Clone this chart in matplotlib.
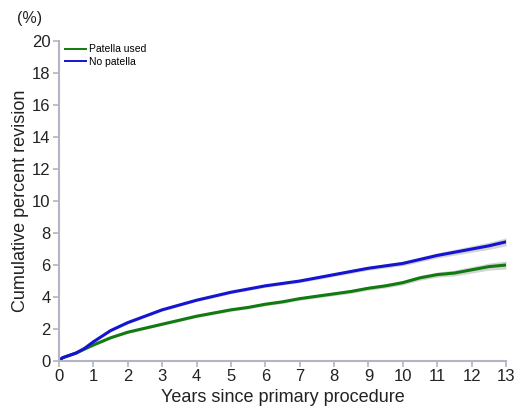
import matplotlib.pyplot as plt

plt.rcParams['font.family'] = ['Liberation Sans', 'DejaVu Sans']

years = [0, 0.1, 0.3, 0.5, 0.75, 1.0, 1.5, 2.0, 2.5, 3.0, 3.5, 4.0, 4.5, 5.0, 5.5, 6.0, 6.5,
         7.0, 7.5, 8.0, 8.5, 9.0, 9.5, 10.0, 10.5, 11.0, 11.5, 12.0, 12.5, 13.0]
no_patella = [0, 0.2, 0.35, 0.5, 0.8, 1.2, 1.9, 2.4, 2.8, 3.2, 3.5, 3.8, 4.05, 4.3, 4.5, 4.7, 4.85,
              5.0, 5.2, 5.4, 5.6, 5.8, 5.95, 6.1, 6.35, 6.6, 6.8, 7.0, 7.2, 7.45]
patella_used = [0, 0.2, 0.35, 0.5, 0.75, 1.0, 1.45, 1.8, 2.05, 2.3, 2.55, 2.8, 3.0, 3.2, 3.35, 3.55, 3.7,
                3.9, 4.05, 4.2, 4.35, 4.55, 4.7, 4.9, 5.2, 5.4, 5.5, 5.7, 5.9, 6.0]
ci_half = [0, 0.03, 0.04, 0.05, 0.05, 0.06, 0.06, 0.07, 0.07, 0.08, 0.08, 0.08, 0.09, 0.09, 0.09, 0.1, 0.1,
           0.1, 0.11, 0.11, 0.12, 0.12, 0.13, 0.14, 0.15, 0.16, 0.18, 0.2, 0.22, 0.25]

fig = plt.figure(figsize=(5.16, 4.07), dpi=100)
ax = fig.add_axes([0.1143, 0.113, 0.8663, 0.786])

series = [("Patella used", patella_used, "#117a11"), ("No patella", no_patella, "#1414d2")]
for label, vals, col in series:
    lo = [v - c for v, c in zip(vals, ci_half)]
    hi = [v + c for v, c in zip(vals, ci_half)]
    ax.fill_between(years, lo, hi, color="#d4d4d4", lw=0)
for label, vals, col in series:
    ax.plot(years, vals, color=col, lw=2.2, label=label)

ax.set_xlim(0, 13)
ax.set_ylim(0, 20)
ax.set_xticks(range(0, 14))
ax.set_yticks(range(0, 21, 2))
for s in ["top", "right"]:
    ax.spines[s].set_visible(False)
for s in ["left", "bottom"]:
    ax.spines[s].set_color("#b4b4c4")
    ax.spines[s].set_linewidth(1.5)
ax.tick_params(colors="#b4b4c4", labelcolor="#222222", labelsize=12, length=4, width=1.2, pad=2)

ax.set_xlabel("Years since primary procedure", fontsize=13, color="#222222", labelpad=3)
ax.set_ylabel("Cumulative percent revision", fontsize=13, color="#222222", labelpad=2)
fig.text(0.058, 0.955, "(%)", fontsize=11.5, color="#222222", ha="center", va="center")

leg = ax.legend(loc="upper left", frameon=False, fontsize=7.5, handlelength=2.0,
                borderaxespad=0.2, labelspacing=0.25, handletextpad=0.3,
                bbox_to_anchor=(0.0, 1.01))
for h in leg.get_lines():
    h.set_linewidth(1.4)

fig.savefig("out.png", dpi=100)
